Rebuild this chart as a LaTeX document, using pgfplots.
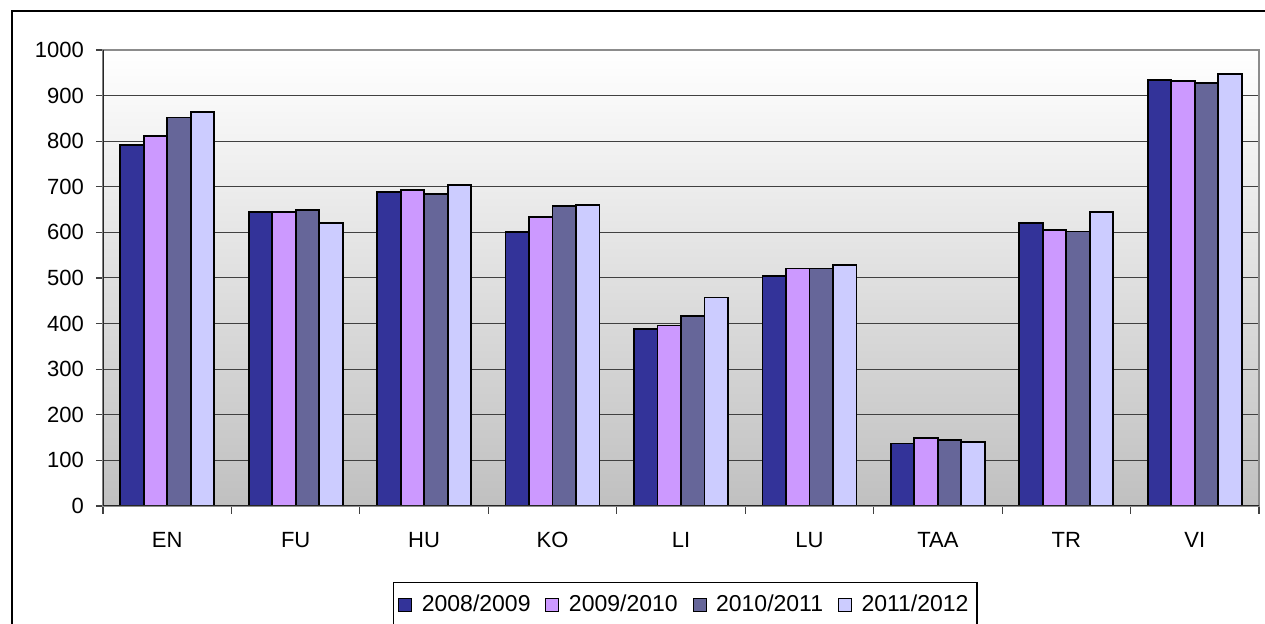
\documentclass[border=0pt]{standalone}
\usepackage{pgfplots}
\pgfplotsset{compat=1.18}
\usepackage{fontspec}
\setmainfont{Liberation Sans}
\definecolor{s1}{RGB}{51,51,153}
\definecolor{s2}{RGB}{204,153,255}
\definecolor{s3}{RGB}{102,102,153}
\definecolor{s4}{RGB}{204,204,255}
\definecolor{bgbot}{RGB}{192,192,192}
\definecolor{gridc}{RGB}{64,64,64}
\newcommand{\lbl}{\fontsize{11}{13}\selectfont}
\newcommand{\lgd}{\fontsize{11.5}{13.5}\selectfont}

\begin{document}
\begin{tikzpicture}
\path[use as bounding box] (0,0) rectangle (632.5pt,312pt);
% outer chart frame (right and bottom edges lie outside the picture)
\draw[line width=0.6pt] (6pt,0) -- (6pt,306.5pt) -- (632.5pt,306.5pt);
\begin{axis}[
    at={(51.5pt,59pt)}, anchor=south west,
    scale only axis,
    width=578pt, height=228pt,
    ybar=0pt, bar width=11.75pt,
    xmin=-0.5, xmax=8.5,
    ymin=0, ymax=1000,
    xtick={0,...,8},
    xticklabels={EN,FU,HU,KO,LI,LU,TAA,TR,VI},
    minor xtick={-0.5,0.5,...,8.5},
    ytick={0,100,...,1000},
    tick align=outside,
    tick pos=left,
    major tick length=3.5pt,
    minor tick length=4pt,
    major x tick style={draw=none},
    every tick/.style={gridc, line width=0.6pt},
    every minor tick/.style={gridc, line width=0.6pt},
    ymajorgrids,
    major grid style={gridc, line width=0.5pt},
    axis line style={draw=black!45, line width=0.8pt},
    axis background/.style={shade, top color=white, bottom color=bgbot},
    /pgf/number format/assume math mode=true,
    /pgf/number format/1000 sep={},
    tick label style={font=\lbl},
    yticklabel style={anchor=east, xshift=-2.5pt},
    xticklabel style={anchor=base, yshift=-17.5pt},
    every axis plot/.append style={draw=black, line width=0.9pt},
    legend columns=4,
    legend style={at={(0.2511,-0.1667)}, anchor=north west,
        draw=black, line width=0.6pt, font=\lgd,
        inner xsep=2.2pt, inner ysep=4.2pt,
        nodes={inner sep=2pt},
        /tikz/every odd column/.append style={column sep=2.8pt},
        /tikz/every even column/.append style={column sep=5.4pt}},
    legend image code/.code={\draw[#1, line width=0.5pt] (0pt,-3.25pt) rectangle (6.5pt,3.25pt);},
]
\addplot[fill=s1] coordinates {(0,792)(1,644)(2,688)(3,601)(4,388)(5,505)(6,137)(7,621)(8,935)};
\addlegendentry{2008/2009}
\addplot[fill=s2] coordinates {(0,811)(1,644)(2,693)(3,633)(4,396)(5,521)(6,149)(7,606)(8,932)};
\addlegendentry{2009/2010}
\addplot[fill=s3] coordinates {(0,852)(1,649)(2,684)(3,657)(4,417)(5,521)(6,145)(7,602)(8,928)};
\addlegendentry{2010/2011}
\addplot[fill=s4] coordinates {(0,864)(1,620)(2,704)(3,660)(4,457)(5,529)(6,141)(7,645)(8,948)};
\addlegendentry{2011/2012}
% dark left and bottom axis lines
\draw[black!85, line width=1pt] (rel axis cs:0,1) -- (rel axis cs:0,0) -- (rel axis cs:1,0);
\end{axis}
\end{tikzpicture}
\end{document}
